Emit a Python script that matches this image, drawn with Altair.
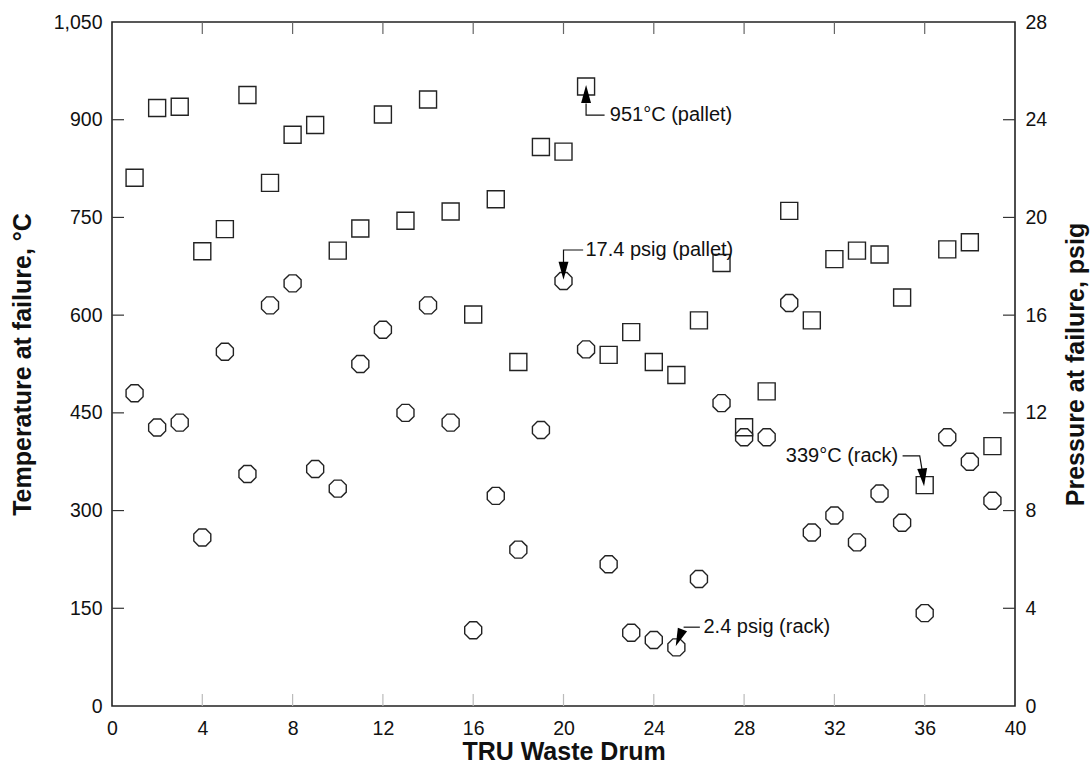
import altair as alt
import pandas as pd

# ---- data ----
drums = list(range(1, 40))
temp_c = [811, 918, 920, 698, 732, 938, 803, 877, 892, 699,
          733, 908, 745, 931, 759, 601, 778, 528, 858, 851,
          951, 539, 574, 528, 508, 592, 680, 428, 483, 760,
          592, 686, 699, 693, 627, 339, 701, 712, 399]
pressure_psig = [12.8, 11.4, 11.6, 6.9, 14.5, 9.5, 16.4, 17.3, 9.7, 8.9,
                 14.0, 15.4, 12.0, 16.4, 11.6, 3.1, 8.6, 6.4, 11.3, 17.4,
                 14.6, 5.8, 3.0, 2.7, 2.4, 5.2, 12.4, 11.0, 11.0, 16.5,
                 7.1, 7.8, 6.7, 8.7, 7.5, 3.8, 11.0, 10.0, 8.4]

x_ticks = list(range(0, 41, 4))
x_inner_ticks = list(range(4, 40, 4))
t_ticks = list(range(0, 1051, 150))
t_inner_ticks = list(range(150, 1050, 150))
p_ticks = list(range(0, 29, 4))
p_inner_ticks = list(range(4, 28, 4))

# annotations (drum, temperature units)
line_id = ["a", "a", "a", "b", "b", "b", "c", "c", "d", "d", "d"]
line_seq = [0, 1, 2, 0, 1, 2, 0, 1, 0, 1, 2]
line_x = [21, 21, 21.82, 20, 20, 20.87, 25.32, 26.04, 35.02, 35.78, 35.9]
line_y = [925, 907, 907, 680, 700, 700, 121, 121, 384, 384, 359]

arrow_x = [21, 20, 25.12, 35.93]
arrow_y = [939.5, 668, 104.6, 351]
arrow_angle = [0, 180, 202, 174]

textL_label = ["951°C (pallet)", "17.4 psig (pallet)", "2.4 psig (rack)"]
textL_x = [22.05, 20.97, 26.2]
textL_y = [907, 700, 121.3]
textR_label = ["339°C (rack)"]
textR_x = [34.83]
textR_y = [384]

FONT = "Liberation Sans"
W, H = 903, 684
TICK = 12
OCTAGON = "M-0.414,-1 L0.414,-1 L1,-0.414 L1,0.414 L0.414,1 L-0.414,1 L-1,0.414 L-1,-0.414 Z"
ARROW = "M0,-1 L0.55,1 L-0.55,1 Z"

df = pd.DataFrame({"drum": drums, "temp": temp_c, "pres": pressure_psig})


def xsc():
    return alt.Scale(domain=[0, 40], nice=False, zero=False)


def tsc():
    return alt.Scale(domain=[0, 1050], nice=False)


def psc():
    return alt.Scale(domain=[0, 28], nice=False)


x_axis = alt.Axis(values=x_ticks, format="d", title="TRU Waste Drum", orient="bottom",
                  ticks=False, tickSize=0,
                  domain=False, grid=False, labelFontSize=19.5, labelPadding=13,
                  labelColor="#111", titleFontSize=25, titleFontWeight="bold",
                  titlePadding=2, titleColor="#111", labelFlush=False)
t_axis = alt.Axis(values=t_ticks, format=",.0f", title="Temperature at failure, °C",
                  orient="left", ticks=False, tickSize=0, domain=False, grid=False,
                  labelFontSize=19.5, labelPadding=10, labelColor="#111",
                  titleFontSize=25, titleFontWeight="bold", titlePadding=18,
                  titleColor="#111", labelFlush=False)
p_axis = alt.Axis(values=p_ticks, format="d", orient="right", title="Pressure at failure, psig",
                  ticks=False, tickSize=0, domain=False, grid=False,
                  labelFontSize=19.5, labelPadding=10, labelColor="#111",
                  titleFontSize=25, titleFontWeight="bold", titlePadding=17,
                  titleColor="#111", titleAngle=270, titleBaseline="top",
                  labelFlush=False)

squares = alt.Chart(df).mark_point(shape="square", filled=False, size=289,
                                   stroke="#222", strokeWidth=1.4, opacity=1).encode(
    x=alt.X("drum:Q", scale=xsc(), axis=x_axis),
    y=alt.Y("temp:Q", scale=tsc(), axis=t_axis),
)

octs = alt.Chart(df).mark_point(shape=OCTAGON, filled=False, size=289,
                                stroke="#222", strokeWidth=1.4, opacity=1).encode(
    x=alt.X("drum:Q", scale=xsc(), axis=None),
    y=alt.Y("pres:Q", scale=psc(), axis=p_axis),
)

top_t = alt.Chart(pd.DataFrame({"v": x_inner_ticks})).mark_rule(color="#666", strokeWidth=1.2).encode(
    x=alt.X("v:Q", scale=xsc(), axis=None), y=alt.value(0), y2=alt.value(TICK))
bot_t = alt.Chart(pd.DataFrame({"v": x_inner_ticks})).mark_rule(color="#bbb", strokeWidth=1.2).encode(
    x=alt.X("v:Q", scale=xsc(), axis=None), y=alt.value(H - TICK), y2=alt.value(H))
left_t = alt.Chart(pd.DataFrame({"v": t_inner_ticks})).mark_rule(color="#333", strokeWidth=1.2).encode(
    y=alt.Y("v:Q", scale=tsc(), axis=None), x=alt.value(0), x2=alt.value(TICK))
right_t = alt.Chart(pd.DataFrame({"v": p_inner_ticks})).mark_rule(color="#333", strokeWidth=1.2).encode(
    y=alt.Y("v:Q", scale=psc(), axis=None), x=alt.value(W - TICK), x2=alt.value(W))

lines_df = pd.DataFrame({"id": line_id, "seq": line_seq, "x": line_x, "y": line_y})
leaders = alt.Chart(lines_df).mark_line(color="#111", strokeWidth=1.2).encode(
    x=alt.X("x:Q", scale=xsc(), axis=None), y=alt.Y("y:Q", scale=tsc(), axis=None),
    detail="id:N", order="seq:Q")

arrows = alt.Chart(pd.DataFrame({"x": arrow_x, "y": arrow_y, "a": arrow_angle})).mark_point(
    shape=ARROW, filled=True, size=324, color="#000", opacity=1).encode(
    x=alt.X("x:Q", scale=xsc(), axis=None), y=alt.Y("y:Q", scale=tsc(), axis=None),
    angle=alt.Angle("a:Q", scale=None))

textsL = alt.Chart(pd.DataFrame({"t": textL_label, "x": textL_x, "y": textL_y})).mark_text(
    align="left", baseline="middle", fontSize=20, font=FONT, color="#111").encode(
    x=alt.X("x:Q", scale=xsc(), axis=None), y=alt.Y("y:Q", scale=tsc(), axis=None), text="t:N")
textsR = alt.Chart(pd.DataFrame({"t": textR_label, "x": textR_x, "y": textR_y})).mark_text(
    align="right", baseline="middle", fontSize=20, font=FONT, color="#111").encode(
    x=alt.X("x:Q", scale=xsc(), axis=None), y=alt.Y("y:Q", scale=tsc(), axis=None), text="t:N")

chart = alt.layer(
    squares, octs, top_t, bot_t, left_t, right_t, leaders, arrows, textsL, textsR
).resolve_scale(x="independent", y="independent").properties(
    width=W, height=H,
    autosize=alt.AutoSizeParams(type="none"),
    padding={"left": 112, "top": 22, "right": 76, "bottom": 61},
    background="white",
).configure_view(stroke="#222", strokeWidth=1.6)

chart = chart.configure_text(font=FONT).configure_axis(labelFont=FONT, titleFont=FONT)

chart.save("out.html", embed_options={"renderer": "svg", "actions": False})
